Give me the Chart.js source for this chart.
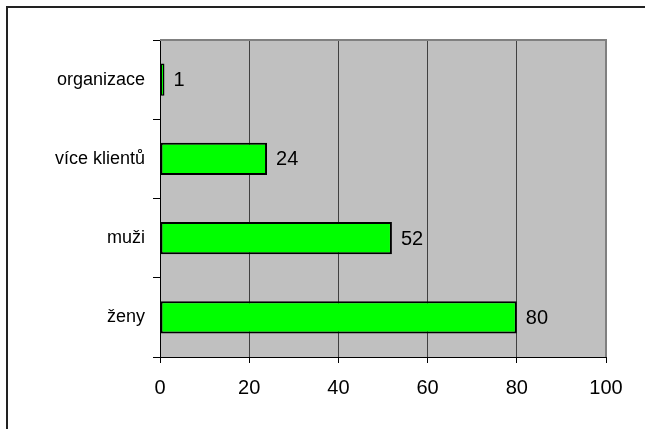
<!DOCTYPE html>
<html><head><meta charset="utf-8">
<script src="https://cdn.jsdelivr.net/npm/chart.js@4"></script>
<style>html,body{margin:0;padding:0;background:#fff}#w{width:645px;height:429px}</style>
</head><body><div id="w"><canvas id="c" width="645" height="429"></canvas></div>
<script>
const categories = ["organizace", "více klientů", "muži", "ženy"];
const values = [1, 24, 52, 80];
const xTicks = [0, 20, 40, 60, 80, 100];

const FONT = '"Liberation Sans", Arial, sans-serif';

const deco = {
  id: 'deco',
  beforeDraw(chart) {
    const {ctx, chartArea: a} = chart;
    ctx.save();
    ctx.fillStyle = '#fff';
    ctx.fillRect(0, 0, chart.width, chart.height);
    ctx.fillStyle = '#c0c0c0';
    ctx.fillRect(a.left, a.top, a.right - a.left, a.bottom - a.top);
    ctx.restore();
  },
  afterDraw(chart) {
    const {ctx, chartArea: a} = chart;
    ctx.save();
    ctx.strokeStyle = '#808080';
    ctx.lineWidth = 2;
    ctx.beginPath();
    ctx.moveTo(a.left, a.top);
    ctx.lineTo(a.right, a.top);
    ctx.lineTo(a.right, a.bottom);
    ctx.stroke();
    ctx.strokeStyle = '#222';
    ctx.lineWidth = 2;
    ctx.beginPath();
    ctx.moveTo(7, chart.height);
    ctx.lineTo(7, 7);
    ctx.lineTo(chart.width, 7);
    ctx.stroke();
    const meta = chart.getDatasetMeta(0);
    ctx.fillStyle = '#000';
    ctx.font = '20px ' + FONT;
    ctx.textAlign = 'left';
    ctx.textBaseline = 'middle';
    meta.data.forEach((bar, i) => {
      ctx.fillText(String(values[i]), bar.x + 9, bar.y + 1);
    });
    ctx.restore();
  }
};

new Chart(document.getElementById('c'), {
  type: 'bar',
  data: {
    labels: categories,
    datasets: [{
      data: values,
      backgroundColor: '#00ff00',
      borderColor: '#000',
      borderWidth: [1.5, 2, 2, 2],
      borderSkipped: false,
      categoryPercentage: 1,
      barPercentage: 0.41
    }]
  },
  options: {
    indexAxis: 'y',
    responsive: false,
    animation: false,
    devicePixelRatio: 1,
    layout: {padding: {top: 40, right: 39, left: 0, bottom: 0}},
    plugins: {legend: {display: false}, tooltip: {enabled: false}},
    scales: {
      x: {
        min: 0, max: 100,
        afterBuildTicks(s) { s.ticks = xTicks.map(v => ({value: v})); },
        afterFit(s) { s.height = 72; },
        grid: {color: '#404040', lineWidth: 1, tickLength: 6, tickColor: '#000'},
        border: {color: '#000', width: 1},
        ticks: {color: '#000', padding: 13, font: {family: FONT, size: 20}}
      },
      y: {
        afterFit(s) { s.width = 160; },
        grid: {drawOnChartArea: false, tickLength: 7, tickColor: '#000', offset: true},
        border: {color: '#000', width: 1},
        ticks: {color: '#000', padding: 8, font: {family: FONT, size: 18}}
      }
    }
  },
  plugins: [deco]
});
</script>
</body></html>
